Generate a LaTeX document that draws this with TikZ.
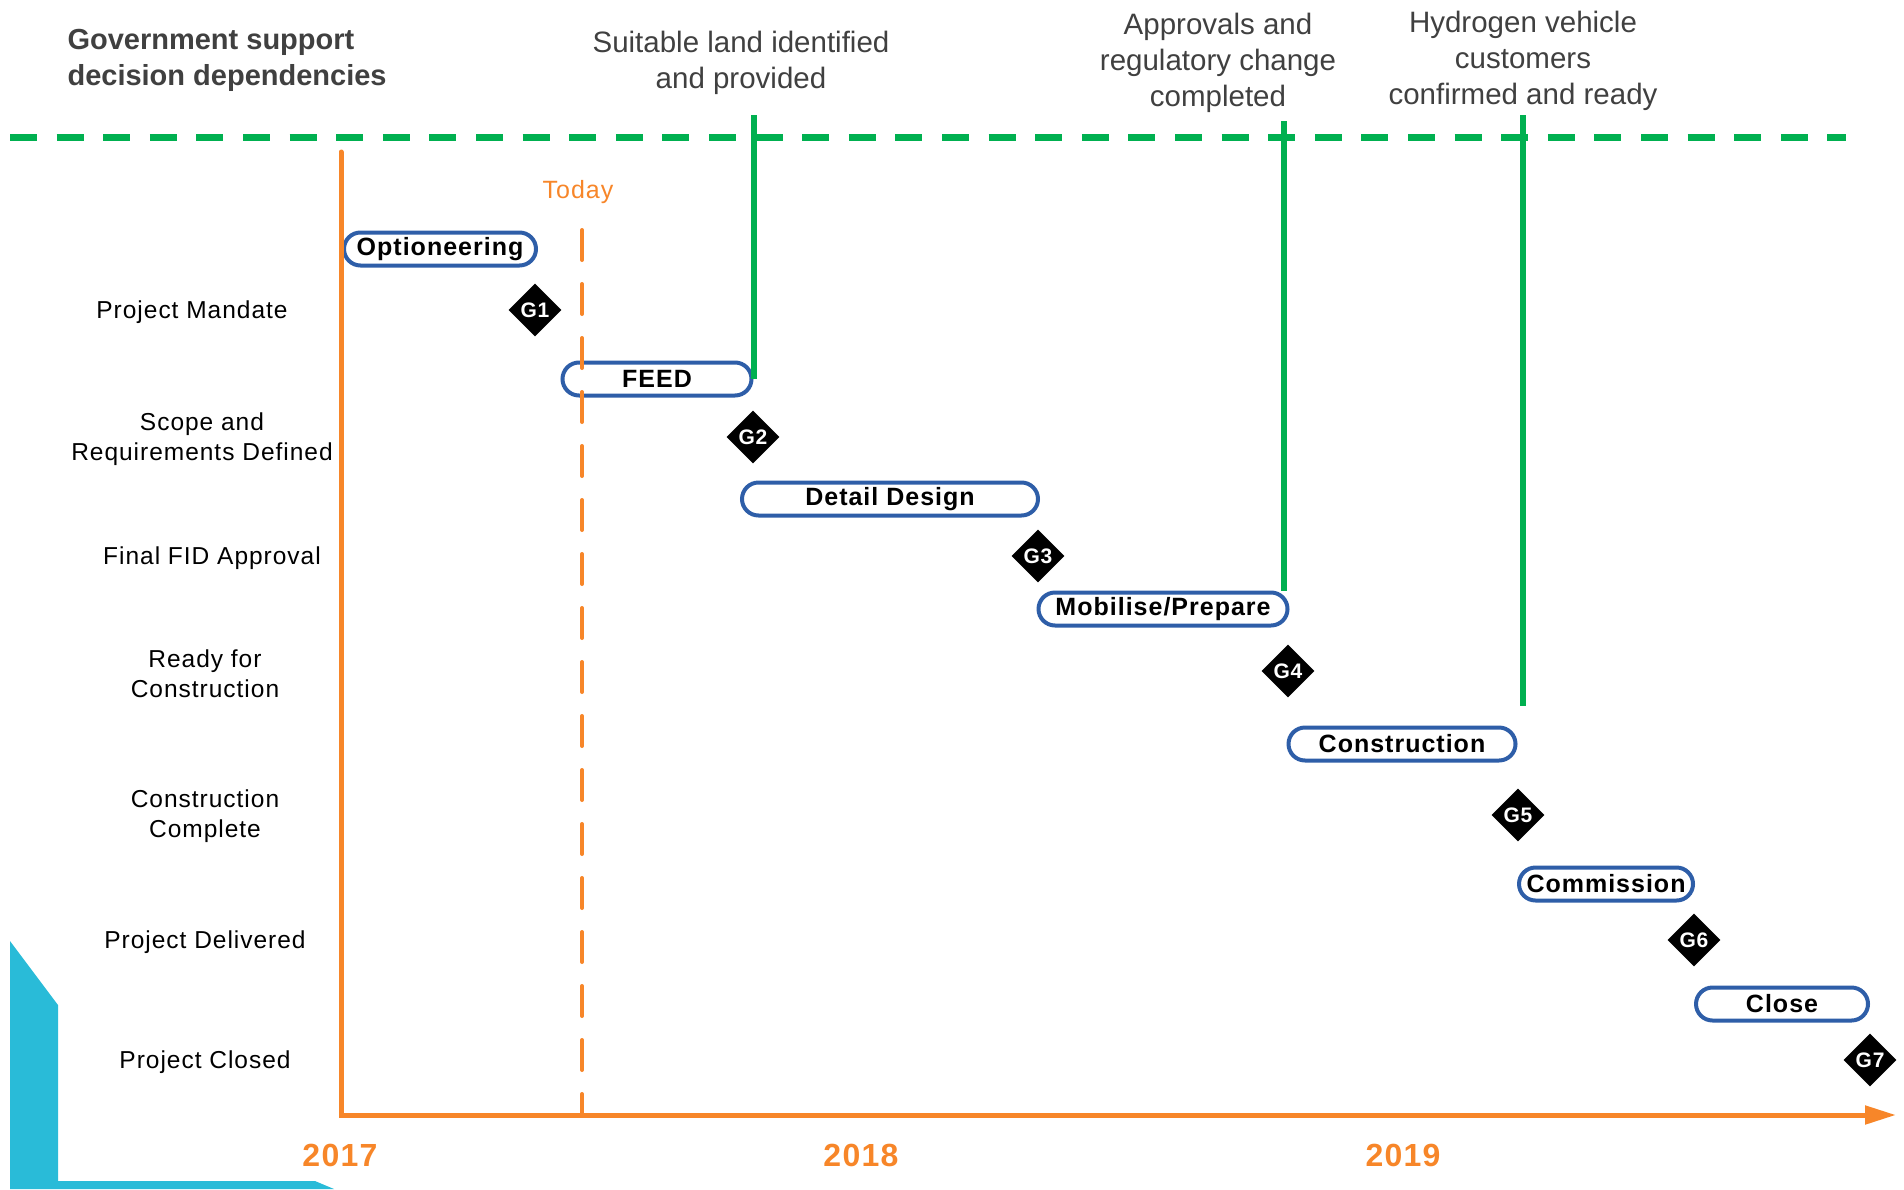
\documentclass[tikz,border=0pt]{standalone}
\usepackage{fontspec}
\setmainfont{Liberation Sans}
\newfontfamily\spacedfont[LetterSpace=4]{Liberation Sans}
\usetikzlibrary{arrows.meta, shapes.geometric, shapes.misc, positioning}

\definecolor{govgreen}{RGB}{0,176,80}
\definecolor{axisorange}{RGB}{247,134,41}
\definecolor{pillblue}{RGB}{46,94,168}
\definecolor{tealblue}{RGB}{41,187,216}
\definecolor{labelgray}{RGB}{64,64,64}

\tikzset{
  phase/.style={rounded rectangle, draw=pillblue, line width=4pt,
    minimum height=33pt, inner sep=0pt,
    font=\spacedfont\bfseries\fontsize{25}{28}\selectfont},
  gate/.style={diamond, fill=black, text=white, minimum size=53pt,
    inner sep=0pt, font=\spacedfont\bfseries\fontsize{21}{22}\selectfont},
  stage/.style={align=center, font=\spacedfont\fontsize{24.5}{30}\selectfont},
  decision/.style={align=center, text=labelgray,
    font=\fontsize{29.5}{36}\selectfont},
  heading/.style={align=left, text=labelgray,
    font=\bfseries\fontsize{29}{36}\selectfont},
  year/.style={text=axisorange, font=\spacedfont\bfseries\fontsize{32}{34}\selectfont},
  govline/.style={govgreen, line width=6.5pt},
}

\begin{document}
\begin{tikzpicture}[x=1pt, y=-1pt]
  \useasboundingbox (0,0) rectangle (1904,1189);

  % corner decoration
  \fill[tealblue] (10,941) -- (58,1005) -- (58,1181) -- (315,1181)
    -- (334,1189) -- (10,1189) -- cycle;

  % government decision line
  \draw[govgreen, line width=7pt, dash pattern=on 27pt off 19.6pt]
    (10,137) -- (1846,137);
  \node[heading, anchor=west] (title) at (64,60)
    {Government support\\decision dependencies};
  \node[decision] (land) at (741,63) {Suitable land identified\\and provided};
  \node[decision] (approvals) at (1218,63)
    {Approvals and\\regulatory change\\completed};
  \node[decision] (hydrogen) at (1523,61)
    {Hydrogen vehicle\\customers\\confirmed and ready};

  % stage gate descriptions
  \node[stage] (mandate) at (192,312) {Project Mandate};
  \node[stage] (scope) at (202,439) {Scope and\\Requirements Defined};
  \node[stage] (fid) at (212,558) {Final FID Approval};
  \node[stage] (ready) at (205,674) {Ready for\\Construction};
  \node[stage] (built) at (205,816) {Construction\\Complete};
  \node[stage] (delivered) at (205,942) {Project Delivered};
  \node[stage] (closed) at (205,1062) {Project Closed};

  % project phases
  \node[phase, minimum width=192pt] (optioneering) at (440,249) {Optioneering};
  \node[phase, minimum width=189pt] (feed) at (657,379) {FEED};
  \node[phase, minimum width=296pt] (design) at (890,499) {Detail Design};
  \node[phase, minimum width=249pt] (mobilise) at (1163,609) {Mobilise/Prepare};
  \node[phase, minimum width=227pt] (construction) at (1402,744) {Construction};
  \node[phase, minimum width=174pt] (commission) at (1606,884) {Commission};
  \node[phase, minimum width=172pt] (close) at (1782,1004) {Close};

  % gates
  \node[gate] (g1) at (535,310) {G1};
  \node[gate] (g2) at (753,437) {G2};
  \node[gate] (g3) at (1038,556) {G3};
  \node[gate] (g4) at (1288,671) {G4};
  \node[gate] (g5) at (1518,815) {G5};
  \node[gate] (g6) at (1694,940) {G6};
  \node[gate] (g7) at (1870,1060) {G7};

  % time axis
  \coordinate (origin) at (341,1115);
  \coordinate (axistop) at (341,152);
  \coordinate (axisend) at (1896,1115);
  \draw[axisorange, line width=5pt, line cap=round,
    -{Triangle[length=31pt, width=18pt]}]
    (axistop) -- (origin) -- (axisend);
  \node[year] (y2017) at (340,1155) {2017};
  \node[year] (y2018) at (861,1155) {2018};
  \node[year] (y2019) at (1403,1155) {2019};

  % today marker
  \node[text=axisorange, font=\spacedfont\fontsize{25}{28}\selectfont]
    (today) at (578,192) {Today};
  \coordinate (nowtop) at (582,230);
  \draw[axisorange, line width=4pt, line cap=round,
    dash pattern=on 30pt off 24pt] (nowtop) -- (nowtop |- origin);

  % dependencies
  \coordinate (landdrop) at (754,115);
  \coordinate (approvaldrop) at (1284,121);
  \coordinate (hydrogendrop) at (1523,115);
  \coordinate (hydrogenend) at (1523,706);
  \draw[govline] (landdrop) -- (landdrop |- feed.east);
  \draw[govline] (approvaldrop) -- (approvaldrop |- mobilise.north);
  \draw[govline] (hydrogendrop) -- (hydrogenend);
\end{tikzpicture}
\end{document}
